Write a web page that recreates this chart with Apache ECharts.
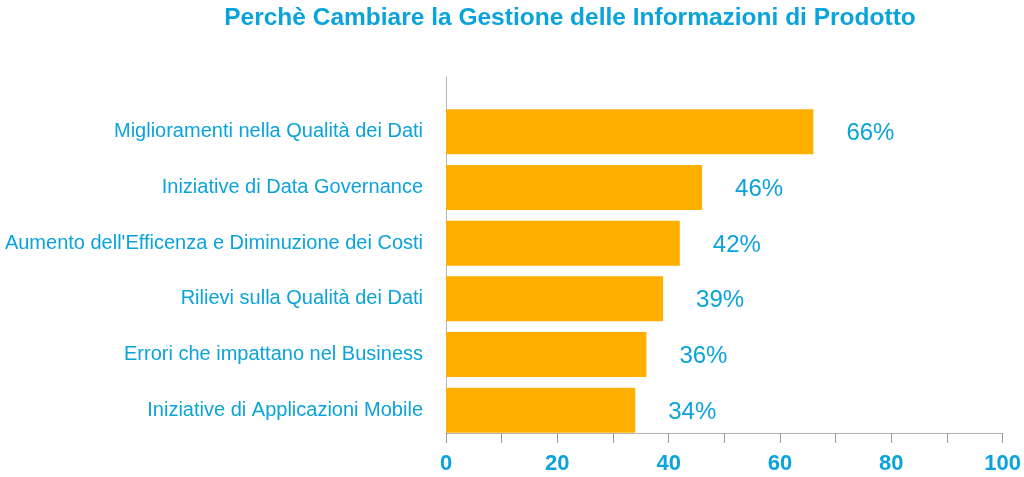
<!DOCTYPE html>
<html>
	<head>
		<meta charset="UTF-8">
		<title>Perchè Cambiare la Gestione delle Informazioni di Prodotto</title>
		<style>
			html,body{margin:0;padding:0;background:#fff;}
			#box{width:1024px;height:477px;}
		</style>
	</head>
	<body>
		<div id="box"></div>
		<script type="text/javascript" src="https://cdn.jsdelivr.net/npm/echarts@6/dist/echarts.min.js"></script>
		<script type="text/javascript">
			// dati (dal basso verso l'alto)
			var categorie = [
				'Iniziative di Applicazioni Mobile',
				'Errori che impattano nel Business',
				'Rilievi sulla Qualità dei Dati',
				"Aumento dell'Efficenza e Diminuzione dei Costi",
				'Iniziative di Data Governance',
				'Miglioramenti nella Qualità dei Dati'
			];
			var valori = [34, 36, 39, 42, 46, 66];
			var tickX = [0, 20, 40, 60, 80, 100];

			var blu = '#0ba3db';
			var font = 'Liberation Sans, Arial, sans-serif';
			var box = document.getElementById('box');
			var myechart = echarts.init(box);

			var option = {
				animation: false,
				textStyle: {fontFamily: font},
				title: {
					text: 'Perchè Cambiare la Gestione delle Informazioni di Prodotto',
					left: 565,
					textAlign: 'center',
					top: 1,
					textStyle: {color: blu, fontSize: 24.5, fontWeight: 'bold', fontFamily: font}
				},
				grid: [
					{left: 446, right: 21, top: 99, bottom: 44},
					{left: 446, right: 21, top: 77, bottom: 44}
				],
				xAxis: [{
					gridIndex: 0,
					type: 'value',
					min: 0,
					max: 100,
					interval: 10,
					axisLine: {show: true, lineStyle: {color: '#b5b5b5', width: 1}},
					axisTick: {show: true, inside: false, length: 10, lineStyle: {color: '#9a9a9a'}},
					splitLine: {show: false},
					axisLabel: {
						color: blu,
						fontSize: 22,
						fontWeight: 'bold',
						margin: 20,
						formatter: function(v){
							return tickX.indexOf(v) >= 0 ? String(v) : '';
						}
					}
				}, {
					gridIndex: 1,
					type: 'value',
					show: false
				}],
				yAxis: [{
					gridIndex: 0,
					type: 'category',
					data: categorie,
					axisLine: {show: false},
					axisTick: {show: false},
					axisLabel: {
						margin: 23,
						formatter: function(v){ return '{t|' + v + '}'; },
						rich: {
							t: {color: blu, fontSize: 20, fontFamily: font, padding: [10, 0, 0, 0]}
						}
					}
				}, {
					gridIndex: 1,
					type: 'value',
					min: 0,
					max: 1,
					axisLine: {show: true, lineStyle: {color: '#b5b5b5', width: 1}},
					axisTick: {show: false},
					axisLabel: {show: false},
					splitLine: {show: false}
				}],
				series: [{
					// serie vuota per spostare le barre verso il basso nella banda
					name: 'spazio',
					type: 'bar',
					xAxisIndex: 0,
					yAxisIndex: 0,
					data: valori.map(function(){ return '-'; }),
					barWidth: 10,
					barGap: '0%',
					silent: true,
					itemStyle: {color: 'transparent'}
				}, {
					name: 'Percentuale',
					type: 'bar',
					xAxisIndex: 0,
					yAxisIndex: 0,
					data: valori,
					barWidth: 45,
					barGap: '0%',
					itemStyle: {color: '#ffaf00'},
					label: {
						show: true,
						position: 'right',
						distance: 33,
						color: blu,
						fontSize: 24,
						offset: [0, 2],
						formatter: '{c}%'
					}
				}]
			};

			myechart.setOption(option);
		</script>
	</body>
</html>
